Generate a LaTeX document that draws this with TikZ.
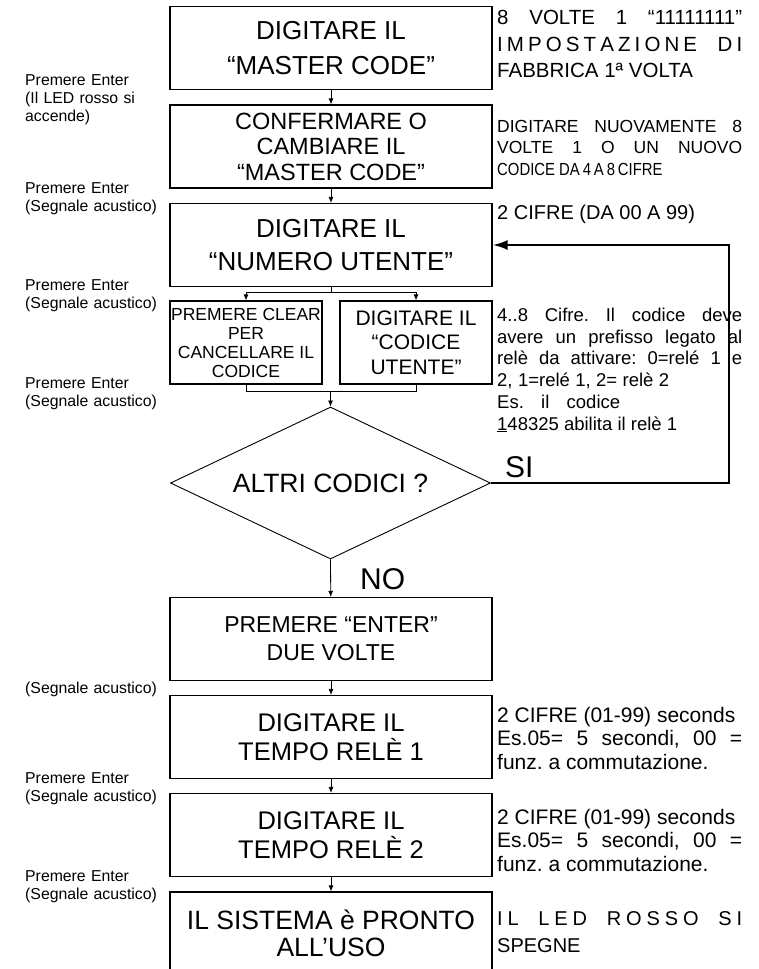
\documentclass[tikz,border=0pt]{standalone}
\usepackage{fontspec}
\setmainfont{Liberation Sans}
\newfontfamily\narrowfont[FakeStretch=0.85]{Liberation Sans}
\usetikzlibrary{arrows.meta}
\usetikzlibrary{shapes.geometric}
\usetikzlibrary{calc}

\newcommand{\fsz}[2]{\fontsize{#1}{#2}\selectfont}

\tikzset{
  procbox/.style={draw, line width=1.2pt, minimum width=322pt, minimum height=83pt, inner sep=0pt, align=center},
  halfbox/.style={draw, line width=1.2pt, minimum width=152pt, minimum height=83pt, inner sep=0pt, align=center},
  decision/.style={draw, diamond, aspect=2.1, line width=0.9pt, minimum width=320pt, minimum height=152pt, inner sep=0pt},
  sidenote/.style={anchor=base west, inner sep=0pt, text width=150pt, align=left, font=\fsz{15.8}{18}},
  rightnote/.style={anchor=base west, inner sep=0pt, text width=245pt, align=justify},
  flow/.style={-{Latex[length=6pt,width=5pt]}, line width=0.8pt},
  backflow/.style={-{Latex[length=15pt,width=10pt]}, line width=2.4pt},
  answer/.style={anchor=base west, inner sep=0pt, font=\fsz{30}{34}}
}

\begin{document}
\frenchspacing
\begin{tikzpicture}[x=1pt,y=-1pt]
            \useasboundingbox (0,0) rectangle (758,969);

            \node[procbox, font=\fsz{26}{35}] (master) at (331,48) {DIGITARE IL\\“MASTER CODE”};
            \node[procbox, font=\fsz{23.5}{25.5}] (confirm) at (331,146.5) {CONFERMARE O\\CAMBIARE IL\\“MASTER CODE”};
            \node[procbox, font=\fsz{26}{33}] (usernum) at (331,245) {DIGITARE IL\\“NUMERO UTENTE”};
            \node[halfbox, font=\fsz{17.5}{19}] (clearcode) at (246,342.5) {PREMERE CLEAR\\PER\\CANCELLARE IL\\CODICE};
            \node[halfbox, font=\fsz{21}{24.5}] (usercode) at (416,342.5) {DIGITARE IL\\“CODICE\\UTENTE”};
            \node[decision, font=\fsz{26.5}{30}] (more) at (330.5,483) {ALTRI CODICI ?};
            \node[procbox, font=\fsz{23}{28}] (enter) at (331,639) {PREMERE “ENTER”\\DUE VOLTE};
            \node[procbox, font=\fsz{25.5}{29.5}] (time1) at (331,737) {DIGITARE IL\\TEMPO RELÈ 1};
            \node[procbox, font=\fsz{25.5}{29.5}] (time2) at (331,835) {DIGITARE IL\\TEMPO RELÈ 2};
            \node[procbox, font=\fsz{26.5}{27}] (ready) at (331,933.5) {IL SISTEMA è PRONTO\\ALL’USO};

            \coordinate (split) at ($(usernum.south)+(0,5)$);
            \coordinate (join) at ($(more.north)+(0,-15)$);
            \coordinate (loopcorner) at (729,245);

            \draw[flow] (master) -- (confirm);
            \draw[flow] (confirm) -- (usernum);
            \draw[line width=0.8pt] (usernum.south) -- (split);
            \draw[flow] (split) -| (clearcode.north);
            \draw[flow] (split) -| (usercode.north);
            \draw[line width=0.8pt] (clearcode.south) |- (join) -| (usercode.south);
            \draw[flow] (join) -- (more.north);
            \draw[flow] (more.south) -- (enter);
            \draw[flow] (enter) -- (time1);
            \draw[flow] (time1) -- (time2);
            \draw[flow] (time2) -- (ready);
            \draw[backflow] (more.east) -| (loopcorner) -- (usernum.east);

            \node[answer] (yes) at (505,477) {SI};
            \node[answer] (no) at (360,589) {NO};

            \node[sidenote] (hint1) at (25,85) {Premere Enter\\(Il LED rosso si\\accende)};
            \node[sidenote] (hint2) at (25,193) {Premere Enter\\(Segnale acustico)};
            \node[sidenote] (hint3) at (25,290.5) {Premere Enter\\(Segnale acustico)};
            \node[sidenote] (hint4) at (25,388.5) {Premere Enter\\(Segnale acustico)};
            \node[sidenote] (hint5) at (25,693.5) {(Segnale acustico)};
            \node[sidenote] (hint6) at (25,783.5) {Premere Enter\\(Segnale acustico)};
            \node[sidenote] (hint7) at (25,881.5) {Premere Enter\\(Segnale acustico)};

            \node[rightnote, font=\fsz{20.5}{26.5}] (factory) at (497,24.5) {\makebox[245pt][s]{8 VOLTE 1 “11111111”}\\
              \makebox[245pt][s]{I\hfill M\hfill P\hfill O\hfill S\hfill T\hfill A\hfill Z\hfill I\hfill O\hfill N\hfill E\hfill\hfill\hfill\hfill\hfill D\hfill I}\\
              FABBRICA 1ª VOLTA};
            \node[rightnote, font=\fsz{17.5}{21.5}] (newcode) at (497,132) {DIGITARE NUOVAMENTE 8\linebreak VOLTE 1 O UN NUOVO\linebreak {\narrowfont CODICE DA\,4\,A\,8\,CIFRE}};
            \node[rightnote, font=\fsz{20}{24}] (digits) at (497,219.5) {2 CIFRE (DA 00 A 99)};
            \node[rightnote, font=\fsz{18.5}{21.7}] (prefix) at (497,321.5) {4..8 Cifre. Il codice deve\linebreak avere un prefisso legato al\linebreak relè da attivare: 0=relé 1 e\linebreak
              \makebox[172pt][s]{2, 1=relé 1, 2= relè 2}\\
              \makebox[123pt][s]{Es. il codice}\\
              \underline{1}48325 abilita il relè 1};
            \node[rightnote, font=\fsz{21}{23.5}] (delay1) at (497,722) {2 CIFRE (01-99) seconds\\Es.05= 5 secondi, 00 =\linebreak funz. a commutazione.};
            \node[rightnote, font=\fsz{21}{23.5}] (delay2) at (497,824) {2 CIFRE (01-99) seconds\\Es.05= 5 secondi, 00 =\linebreak funz. a commutazione.};
            \node[rightnote, font=\fsz{20}{27}] (ledoff) at (497,925) {\makebox[245pt][s]{I\hfill L\hfill\hfill\hfill\hfill L\hfill E\hfill D\hfill\hfill\hfill\hfill R\hfill O\hfill S\hfill S\hfill O\hfill\hfill\hfill\hfill S\hfill I}\\SPEGNE};
        \end{tikzpicture}
\end{document}
